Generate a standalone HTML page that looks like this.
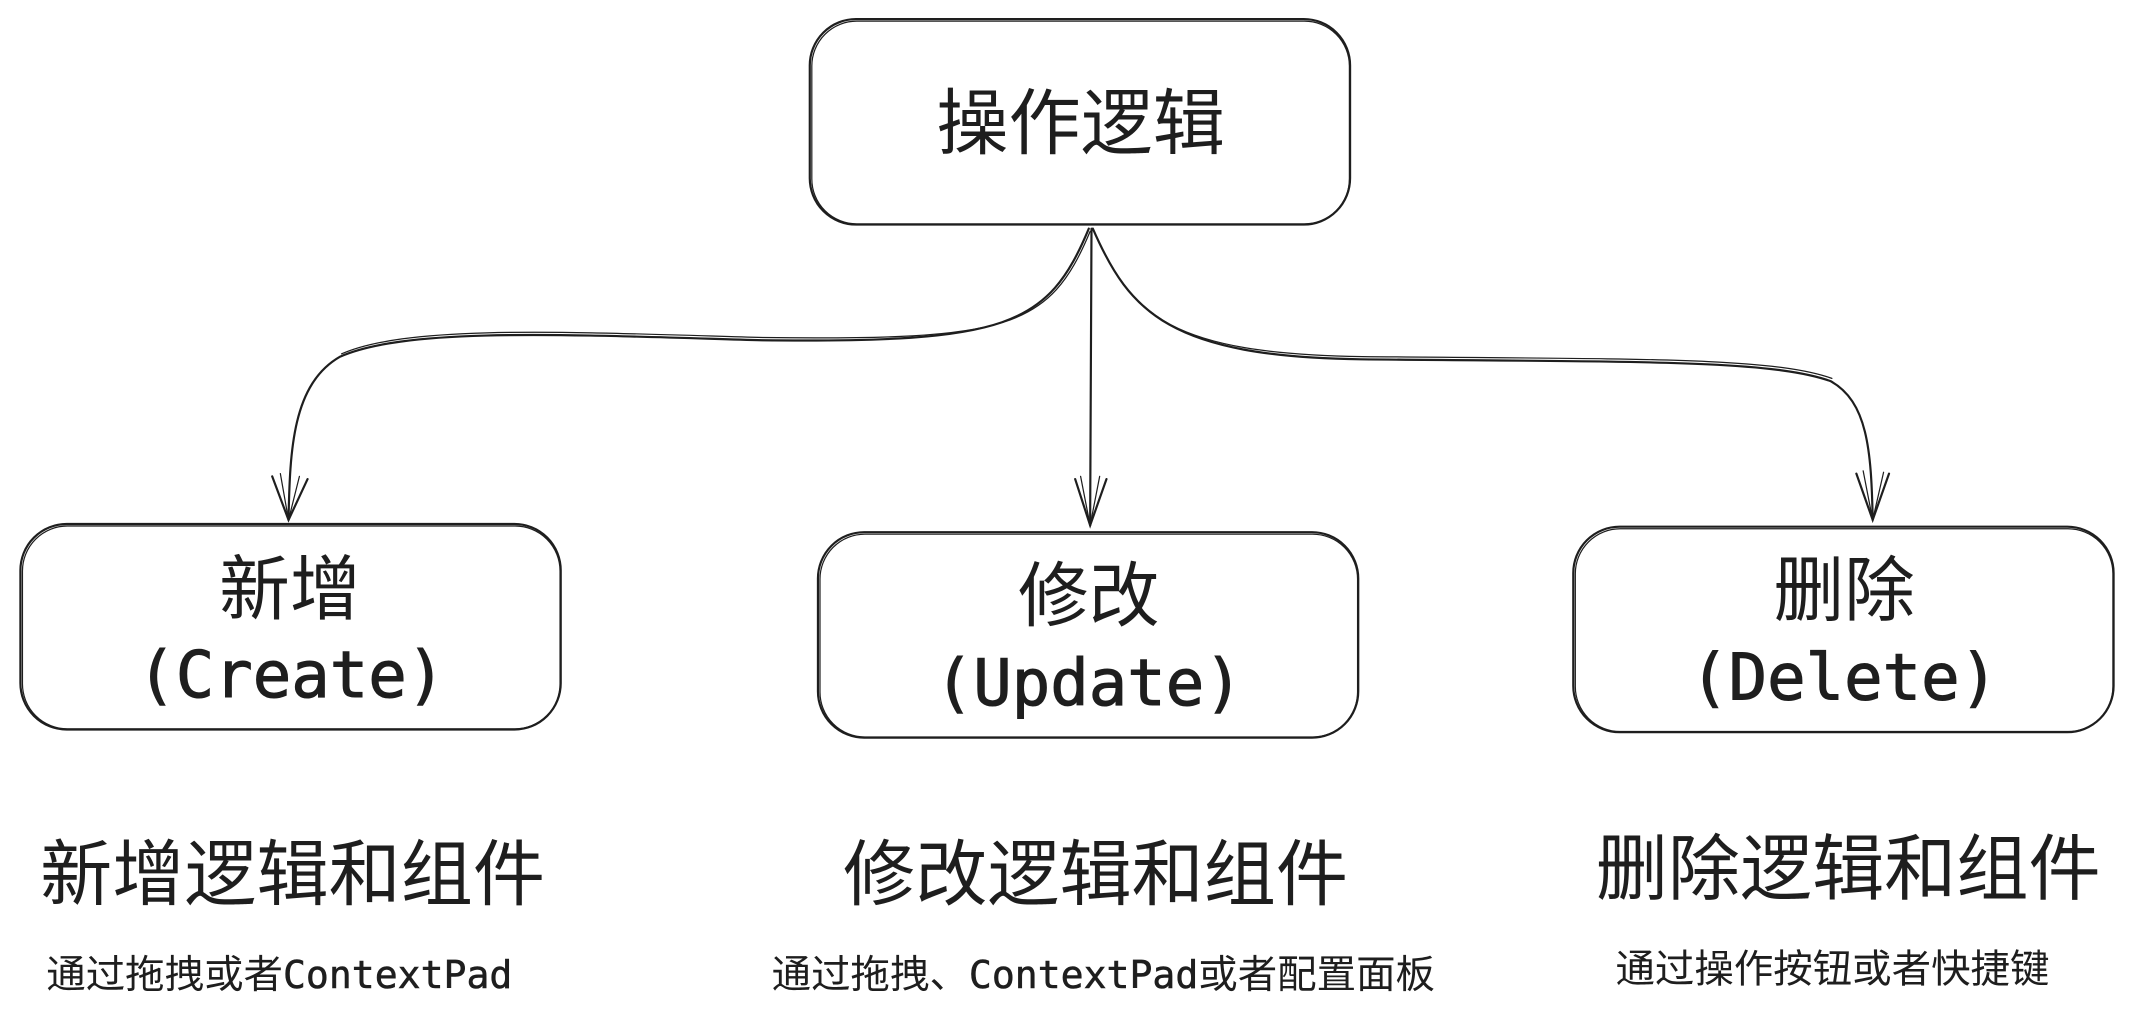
<!DOCTYPE html>
<html><head><meta charset="utf-8"><style>
html,body{margin:0;padding:0;background:#fff;}
svg{display:block;}
text{fill:#1e1e1e;}
.cjk{font-family:"Liberation Sans","Noto Sans CJK SC",sans-serif;}
.mono{font-family:"DejaVu Sans Mono","Liberation Mono",monospace;}
</style></head><body>
<svg width="2134" height="1016" viewBox="0 0 1568 746.5" xmlns="http://www.w3.org/2000/svg">
<g fill="none" stroke="#1e1e1e" stroke-width="1.6" stroke-linecap="round">
<rect x="595" y="14" width="397" height="151" rx="34"/>
<rect x="596.5" y="15.5" width="395" height="149" rx="33" stroke-width="0.9"/>
<rect x="15" y="385" width="397" height="151" rx="34"/>
<rect x="16.5" y="386.5" width="395" height="149" rx="33" stroke-width="0.9"/>
<rect x="601" y="391" width="397" height="151" rx="34"/>
<rect x="602.5" y="392.5" width="395" height="149" rx="33" stroke-width="0.9"/>
<rect x="1156" y="387" width="397" height="151" rx="34"/>
<rect x="1157.5" y="388.5" width="395" height="149" rx="33" stroke-width="0.9"/>
<path d="M800 168 C770 240 740 252 560 250 C420 246 300 240 250 262 C215 282 213 330 212 382"/>
<path d="M801 170 C771 242 741 250 561 248 C421 244 301 238 251 260" stroke-width="0.9"/>
<path d="M200 350 L212 382 L226 352"/>
<path d="M206 348 L212 382 L220 350" stroke-width="0.9"/>
<path d="M802 168 L801 386"/>
<path d="M790 352 L801 386 L813 352"/>
<path d="M794 350 L801 386 L808 350" stroke-width="0.9"/>
<path d="M803 168 C830 230 860 262 1000 264 C1200 266 1300 264 1345 280 C1372 295 1375 330 1376 382"/>
<path d="M804 170 C831 232 861 260 1001 262 C1201 264 1301 262 1346 278" stroke-width="0.9"/>
<path d="M1364 348 L1376 382 L1388 348"/>
<path d="M1369 346 L1376 382 L1384 347" stroke-width="0.9"/>
</g>
<text class="cjk" x="794" y="109" font-size="53" text-anchor="middle">操作逻辑</text>
<text class="cjk" x="213" y="451" font-size="52" text-anchor="middle">新增</text>
<text class="mono" x="214" y="512" font-size="47" stroke="#1e1e1e" stroke-width="0.8" text-anchor="middle">(Create)</text>
<text class="cjk" x="800" y="456" font-size="52" text-anchor="middle">修改</text>
<text class="mono" x="800" y="518" font-size="47" stroke="#1e1e1e" stroke-width="0.8" text-anchor="middle">(Update)</text>
<text class="cjk" x="1355" y="452" font-size="52" text-anchor="middle">删除</text>
<text class="mono" x="1355" y="514" font-size="47" stroke="#1e1e1e" stroke-width="0.8" text-anchor="middle">(Delete)</text>
<text class="cjk" x="215" y="661" font-size="53" text-anchor="middle">新增逻辑和组件</text>
<text class="cjk" x="805" y="661" font-size="53" text-anchor="middle">修改逻辑和组件</text>
<text class="cjk" x="1358" y="657" font-size="53" text-anchor="middle">删除逻辑和组件</text>
<text class="cjk" x="34" y="726" font-size="29">通过拖拽或者<tspan class="mono" font-size="28" stroke="#1e1e1e" stroke-width="0.4">ContextPad</tspan></text>
<text class="cjk" x="567" y="726" font-size="29">通过拖拽、<tspan class="mono" font-size="28" stroke="#1e1e1e" stroke-width="0.4">ContextPad</tspan>或者配置面板</text>
<text class="cjk" x="1187" y="722" font-size="29">通过操作按钮或者快捷键</text>
</svg>
</body></html>
